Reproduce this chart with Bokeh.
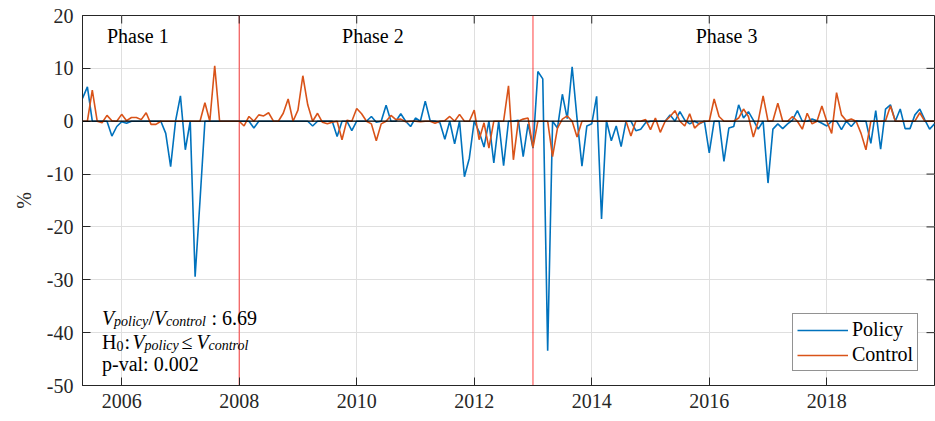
import math
import pandas as pd
from bokeh.plotting import figure
from bokeh.models import FixedTicker, Label, Span, Range1d
from bokeh.embed import file_html
from bokeh.resources import INLINE

# ---------------- data ----------------
START_MONTH = "2005-05-01"

policy = [
    4.3, 6.5, 0, 0, 0, 0, -2.8, -1.0,                                  # 2005 May-Dec
    -0.1, -0.4, 0, 0, 0, 0, 0, 0, 0, -2.3, -8.6, 0,                    # 2006
    4.8, -5.4, 0, -29.4, -15.0, 0, 0, 0, 0, 0, 0, 0,                   # 2007
    0, 0, 0, -1.3, 0, 0, 0, 0, 0, 0, 0, 0,                             # 2008
    0, 0, 0, -0.9, 0, 0, 0, 0, -2.9, 0, 0, -1.8,                       # 2009
    0, 0, 0, 0.9, -0.2, 0, 3.0, 0, 0, 1.4, 0, -1.0,                    # 2010
    0.6, 0, 3.8, 0.1, 0, -0.3, -3.4, 0, -4.3, 0, -10.5, -7.0,          # 2011
    0, -2.0, -4.9, 0, -7.9, 0, -8.4, 0, 0, 0.2, -6.7, -0.5,            # 2012
    -5.1, 9.4, 8.0, -43.4, 0, -1.3, 5.1, 0.5, 10.3, 0.5, -8.5, -0.9,   # 2013
    -0.5, 4.7, -18.5, 0.1, -3.7, -0.9, -4.8, 0, 0, -1.8, -1.5, -0.3,   # 2014
    0, 0, 0, 0, 1.2, 0, 1.8, 0.2, -0.5, 0, -0.5, 0,                    # 2015
    -6.0, 0, 0, -7.6, -1.3, -1.0, 3.1, 0.6, 1.8, 0.2, -1.5, 0,         # 2016
    -11.7, -1.5, -0.5, -1.4, -0.5, 0.2, 2.0, 0, 0, 0.4, 0.1, -0.4,     # 2017
    -0.9, 0, 0, -1.6, 0, -1.0, 0.1, 0, 0, -4.2, 2.0, -5.3,             # 2018
    2.3, 3.1, 0, 2.3, -1.4, -1.4, 1.2, 2.3, 0.3, -1.5, -0.5,           # 2019 Jan-Nov
]

control = [
    0, 0, 5.9, 0, -0.3, 1.1, 0.1, 0,                                   # 2005 May-Dec
    1.3, 0.1, 0.7, 0.7, 0.3, 1.6, -0.6, -0.6, 0, 0, 0, 0,              # 2006
    0, 0, 0, 0, 0, 3.5, 0, 10.5, 0, 0, 0, 0,                           # 2007
    0, -0.9, 0.9, 0, 1.2, 1.0, 1.6, 0, 0, 1.5, 4.2, 0,                 # 2008
    2.1, 8.6, 3.1, 0, 1.5, -0.2, -0.5, -0.2, 0, -3.5, 0.2, 0,          # 2009
    2.4, 1.4, 0, -0.5, -3.7, -0.5, 0, 1.1, 0.3, 0.4, -0.1, 0,          # 2010
    0, -0.1, 0, 0, -0.4, 0, 0.1, 0.9, 0, 1.3, 0, 0,                    # 2011
    2.1, -3.5, -0.3, -5.1, 0, 0, 0, 6.7, -7.3, 0, 0.4, 0.6,            # 2012
    -5.0, 0, 0, 0, -6.7, -1.3, 0.4, 1.0, 0, -3.0, 0, 0,                # 2013
    0, 0, 0, 0, 0, 0, 0, 0, -2.8, 0, 0, 0.3,                           # 2014
    -1.6, 0.6, -2.1, 0, 0.9, 2.0, 0, -0.9, 1.4, -1.3, -0.4, 0,         # 2015
    0, 4.2, 0.9, 0, 0, 0, 0.6, 2.3, 0.9, -3.0, 0, 4.8,                 # 2016
    0, 0.1, 3.4, 0, 0, 0.9, 0, -1.5, 1.5, -0.5, 0, 2.9,                # 2017
    0, -2.3, 5.4, 1.2, 0.1, 0.4, 0, -2.3, -5.4, 0, 0, 0,               # 2018
    0.1, 2.9, 0, 0, 0, 0, 0, 1.6, 0, 0, 0,                             # 2019 Jan-Nov
]

series_names = ["Policy", "Control"]
series_colors = ["#0072BD", "#D95319"]

x_ticks = [2006, 2008, 2010, 2012, 2014, 2016, 2018]
x_tick_labels = ["2006", "2008", "2010", "2012", "2014", "2016", "2018"]
y_ticks = [-50, -40, -30, -20, -10, 0, 10, 20]
y_tick_labels = ["-50", "-40", "-30", "-20", "-10", "0", "10", "20"]
Y_MIN, Y_MAX = -50, 20

phase_breaks = [2008, 2013]
phase_labels = ["Phase 1", "Phase 2", "Phase 3"]
phase_label_x = [2005.75, 2009.75, 2015.77]

ratio_value = "6.69"
p_value = "0.002"

# ---------------- x positions (decimal years from monthly dates) ----------------
dates = pd.date_range(START_MONTH, periods=len(policy), freq="MS")
t = list(dates.year + (dates.month - 1) / 12.0)
X_MIN, X_MAX = t[0], t[-1]

FONT = "Liberation Serif"
AX_COLOR = "#262626"
TICK_LEN = 8

p = figure(width=935, height=421,
           x_range=Range1d(X_MIN, X_MAX), y_range=Range1d(Y_MIN, Y_MAX),
           output_backend="svg", toolbar_location=None,
           min_border_left=82, min_border_right=1,
           min_border_top=15, min_border_bottom=36)

p.background_fill_color = "white"
p.border_fill_color = "white"
p.outline_line_color = AX_COLOR
p.outline_line_width = 1

# axes
for ax in [p.xaxis[0], p.yaxis[0]]:
    ax.axis_line_color = AX_COLOR
    ax.major_tick_line_color = AX_COLOR
    ax.major_tick_in = TICK_LEN
    ax.major_tick_out = 0
    ax.minor_tick_line_color = None
    ax.major_label_text_font = FONT
    ax.major_label_text_font_size = "20px"
    ax.major_label_text_color = AX_COLOR

p.xaxis.ticker = FixedTicker(ticks=x_ticks)
p.xaxis.major_label_overrides = dict(zip(x_ticks, x_tick_labels))
p.xaxis.major_label_standoff = 8
p.yaxis.ticker = FixedTicker(ticks=y_ticks)
p.yaxis.major_label_overrides = dict(zip(y_ticks, y_tick_labels))
p.yaxis.major_label_standoff = 9
p.yaxis.axis_label = "%"
p.yaxis.axis_label_text_font = FONT
p.yaxis.axis_label_text_font_size = "20px"
p.yaxis.axis_label_text_font_style = "normal"
p.yaxis.axis_label_text_color = AX_COLOR
p.yaxis.axis_label_standoff = 9

# grid
p.xgrid.ticker = FixedTicker(ticks=x_ticks)
p.ygrid.ticker = FixedTicker(ticks=y_ticks)
for g in [p.xgrid[0], p.ygrid[0]]:
    g.grid_line_color = "#DFDFDF"
    g.grid_line_width = 1

# box ticks on top and right edges (inward), drawn at the tick values
p.ray(x=x_ticks, y=[Y_MAX] * len(x_ticks), length=TICK_LEN, length_units="screen",
      angle=-math.pi / 2, line_color=AX_COLOR, line_width=1)
p.ray(x=[X_MAX] * len(y_ticks), y=y_ticks, length=TICK_LEN, length_units="screen",
      angle=math.pi, line_color=AX_COLOR, line_width=1)

# phase separators
for b in phase_breaks:
    p.add_layout(Span(location=b, dimension="height", line_color="#FF0000",
                      line_alpha=0.75, line_width=1, level="underlay"))

# series
for vals, name, col in zip([policy, control], series_names, series_colors):
    p.line(t, vals, line_color=col, line_width=1.6, legend_label=name)

# zero line
p.add_layout(Span(location=0, dimension="width", line_color="black", line_width=1.3))

# phase labels
for lx, lab in zip(phase_label_x, phase_labels):
    p.add_layout(Label(x=lx, y=Y_MAX, y_offset=-20, text=lab, text_font=FONT,
                       text_font_size="20px", text_color="black",
                       text_baseline="alphabetic", text_align="left"))

# statistics annotation (pieces placed in px from frame bottom-left)
def piece(text, dx, dy, size="20px", style="italic"):
    p.add_layout(Label(x=X_MIN, y=Y_MIN, x_offset=dx, y_offset=dy, text=text,
                       text_font=FONT, text_font_size=size, text_font_style=style,
                       text_color="black", text_baseline="alphabetic",
                       text_align="left"))

SUB = "14px"
L1, L2, L3 = 68, 44, 22
# line 1
piece("V", 19.5, L1)
piece("policy", 31.5, L1 - 4, SUB)
piece("/", 66, L1, style="normal")
piece("V", 71.5, L1)
piece("control", 83.5, L1 - 4, SUB)
piece(": " + ratio_value, 129, L1, style="normal")
# line 2
piece("H", 19.5, L2, style="normal")
piece("0", 34, L2 - 4, SUB, style="normal")
piece(":", 42, L2, style="normal")
piece("V", 50, L2)
piece("policy", 62, L2 - 4, SUB)
piece("\u2264", 99, L2, style="normal")
piece("V", 114, L2)
piece("control", 126, L2 - 4, SUB)
# line 3
piece("p-val: " + p_value, 19.5, L3, style="normal")

# legend
lg = p.legend[0]
lg.location = (710, 14)
lg.label_text_font = FONT
lg.label_text_font_size = "20px"
lg.label_text_color = "black"
lg.glyph_width = 51
lg.glyph_height = 22
lg.label_height = 22
lg.spacing = 2
lg.padding = 4
lg.label_standoff = 4
lg.border_line_color = AX_COLOR
lg.border_line_width = 1
lg.background_fill_alpha = 1

open("out.html", "w").write(file_html(p, INLINE))
